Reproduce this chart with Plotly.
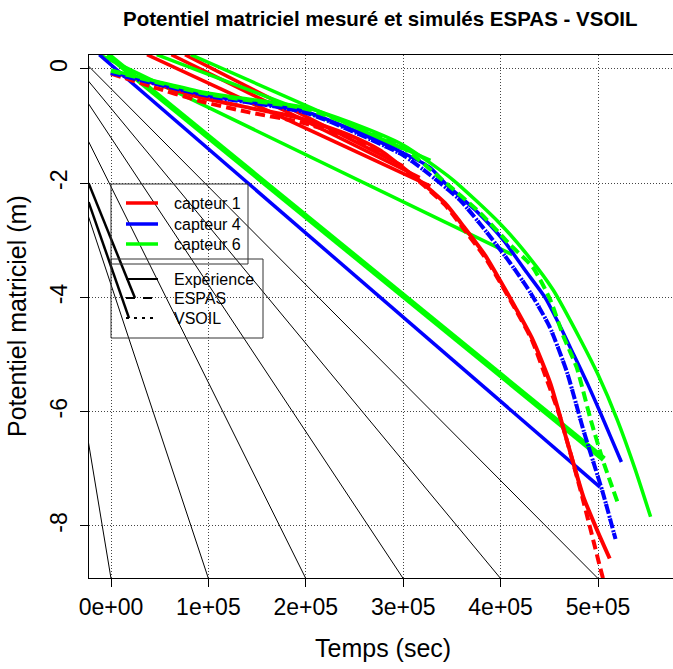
import plotly.graph_objects as go

SCALE = 1e5  # time values below are in units of 1e5 s

# ---- capteur 1 (red) ----
red_exp_t = [0, 0.4, 0.91, 1.42, 1.94, 2.45, 2.76, 3.0, 3.22, 3.43, 3.63, 3.84, 3.99, 4.15, 4.33, 4.51, 4.68, 4.85, 4.99, 5.12]
red_exp_h = [-0.05, -0.23, -0.49, -0.68, -0.86, -1.16, -1.42, -1.73, -2.03, -2.35, -2.78, -3.26, -3.69, -4.17, -4.74, -5.50, -6.50, -7.49, -8.07, -8.57]
red_espas_t = [0, 0.4, 0.91, 1.42, 1.94, 2.45, 2.76, 3.0, 3.22, 3.43, 3.63, 3.84, 3.99, 4.15, 4.32, 4.47, 4.61, 4.82, 5.05, 5.10]
red_espas_h = [-0.08, -0.30, -0.56, -0.76, -0.93, -1.20, -1.45, -1.74, -2.05, -2.38, -2.82, -3.30, -3.72, -4.20, -4.74, -5.42, -6.09, -7.37, -8.91, -9.2]

# ---- capteur 4 (blue) ----
blue_exp_t = [0, 0.99, 2.01, 3.0, 3.28, 3.43, 3.74, 4.03, 4.25, 4.46, 4.61, 4.75, 4.89, 5.02, 5.13, 5.24]
blue_exp_h = [-0.05, -0.46, -0.75, -1.47, -1.73, -2.00, -2.47, -3.00, -3.52, -4.01, -4.50, -5.00, -5.50, -6.00, -6.44, -6.88]
blue_espas_t = [0, 0.99, 2.01, 3.0, 3.28, 3.58, 3.84, 4.10, 4.30, 4.50, 4.68, 4.85, 5.05, 5.18]
blue_espas_h = [-0.07, -0.47, -0.77, -1.51, -1.86, -2.29, -2.82, -3.40, -3.90, -4.50, -5.30, -6.32, -7.42, -8.23]
blue_vsoil_t = [0, 0.99, 2.01, 3.0, 3.28, 3.58, 3.84, 4.10, 4.30, 4.50, 4.68, 4.85, 5.05, 5.18]
blue_vsoil_h = [-0.07, -0.47, -0.77, -1.51, -1.86, -2.29, -2.82, -3.40, -3.90, -4.50, -5.30, -6.32, -7.42, -8.23]

# ---- capteur 6 (green) ----
green_exp_t = [0, 0.99, 2.01, 2.45, 3.0, 3.51, 3.99, 4.30, 4.54, 4.82, 5.00, 5.20, 5.38, 5.54]
green_exp_h = [-0.02, -0.42, -0.68, -0.93, -1.33, -1.94, -2.70, -3.31, -3.87, -4.74, -5.35, -6.15, -7.00, -7.84]
green_espas_t = [0, 0.99, 2.01, 2.45, 3.0, 3.38, 3.79, 4.10, 4.33, 4.51, 4.64, 4.78, 4.92, 5.05, 5.20]
green_espas_h = [-0.03, -0.44, -0.70, -0.97, -1.38, -1.91, -2.52, -3.08, -3.47, -4.04, -4.66, -5.22, -6.11, -6.85, -7.58]

# ---- straight "return" segments seen in the figure ----
red_jump_t0 = [0.37, 0.62, 0.76]
red_jump_h0 = [0.25, 0.25, 0.25]
red_jump_t1 = [3.28, 3.17, 3.0]
red_jump_h1 = [-2.05, -1.90, -1.70]
green_jump_t0 = [0.47, 0.82, -0.12]
green_jump_h0 = [0.25, 0.25, 0.25]
green_jump_t1 = [3.0, 3.28, 4.12]
green_jump_h1 = [-1.40, -1.60, -3.25]
green_thick_t = [-0.035, 5.06]
green_thick_h = [0.25, -6.83]
blue_jump_t = [-0.12, 5.02]
blue_jump_h = [0.25, -7.32]

# ---- black fan lines ----
fan_origin_t = -1.0
fan_origin_h = 1.37
fan_end_t = [0, 1, 2, 3, 4, 5]
fan_end_h = -8.92
legend_join_t0 = [-0.23, -0.23]
legend_join_h0 = [-2.0, -2.33]
legend_join_t1 = [0.246, 0.185]
legend_join_h1 = [-4.01, -4.36]

xtick_vals = [0, 1, 2, 3, 4, 5]
xtick_text = ["0e+00", "1e+05", "2e+05", "3e+05", "4e+05", "5e+05"]
ytick_vals = [0, -2, -4, -6, -8]
ytick_text = ["0", "-2", "-4", "-6", "-8"]

RED, BLUE, GREEN = "#FF0000", "#0000FF", "#00FF00"
FONT = "Liberation Sans, Arial, sans-serif"

fig = go.Figure()


def seg(x, y, color, width, dash="solid", smooth=False):
    line = dict(color=color, width=width, dash=dash)
    if smooth:
        line.update(shape="spline", smoothing=0.6)
    fig.add_trace(go.Scatter(x=[v * SCALE for v in x], y=y, mode="lines", line=line,
                             showlegend=False, hoverinfo="skip"))


for te in fan_end_t:
    seg([fan_origin_t, te], [fan_origin_h, fan_end_h], "black", 1)
for a, b, c, d in zip(legend_join_t0, legend_join_h0, legend_join_t1, legend_join_h1):
    seg([a, c], [b, d], "black", 2.5)

for a, b, c, d in zip(red_jump_t0, red_jump_h0, red_jump_t1, red_jump_h1):
    seg([a, c], [b, d], RED, 3.5)
for a, b, c, d in zip(green_jump_t0, green_jump_h0, green_jump_t1, green_jump_h1):
    seg([a, c], [b, d], GREEN, 3.5)
seg(green_thick_t, green_thick_h, GREEN, 6)
seg(blue_jump_t, blue_jump_h, BLUE, 3.5)

seg(red_espas_t, red_espas_h, RED, 4, "10px,5px", True)
seg(red_exp_t, red_exp_h, RED, 4, "solid", True)
seg(blue_espas_t, blue_espas_h, BLUE, 4, "10px,5px", True)
seg(blue_vsoil_t, blue_vsoil_h, BLUE, 4, "1px,11px,2px,1px", True)
seg(blue_exp_t, blue_exp_h, BLUE, 3.5, "solid", True)
seg(green_espas_t, green_espas_h, GREEN, 4, "10px,5px", True)
seg(green_exp_t, green_exp_h, GREEN, 3.5, "solid", True)

W, H = 673, 669
L, R, T, B = 89, 0, 55, 91
PW, PH = W - L - R, H - T - B


def px(xp):
    return (xp - L) / PW


def py(yp):
    return (H - B - yp) / PH


shapes = []
shapes.append(dict(type="rect", xref="paper", yref="paper", x0=px(111), x1=px(248), y0=py(264), y1=py(184),
                   line=dict(color="#333", width=1)))
shapes.append(dict(type="rect", xref="paper", yref="paper", x0=px(111), x1=px(263), y0=py(338), y1=py(259),
                   line=dict(color="#333", width=1)))
leg1 = [("capteur 1", RED, 203), ("capteur 4", BLUE, 224), ("capteur 6", GREEN, 244)]
leg2 = [("Expérience", "solid", 279), ("ESPAS", "9px,8px", 298), ("VSOIL", "3px,5px", 318)]
annotations = []
for txt, col, yy in leg1:
    shapes.append(dict(type="line", xref="paper", yref="paper", x0=px(126), x1=px(158), y0=py(yy), y1=py(yy),
                       line=dict(color=col, width=3.5)))
    annotations.append(dict(text=txt, xref="paper", yref="paper", x=px(172), y=py(yy), xanchor="left",
                            yanchor="middle", showarrow=False, font=dict(family=FONT, size=16, color="black")))
for txt, dsh, yy in leg2:
    shapes.append(dict(type="line", xref="paper", yref="paper", x0=px(126), x1=px(158), y0=py(yy), y1=py(yy),
                       line=dict(color="black", width=2, dash=dsh)))
    annotations.append(dict(text=txt, xref="paper", yref="paper", x=px(172), y=py(yy), xanchor="left",
                            yanchor="middle", showarrow=False, font=dict(family=FONT, size=16, color="black")))

annotations.append(dict(text="<b>Potentiel matriciel mesuré et simulés ESPAS - VSOIL</b>", xref="paper", yref="paper",
                        x=px(380), y=py(19), xanchor="center", yanchor="middle", showarrow=False,
                        font=dict(family=FONT, size=20.5, color="black")))
annotations.append(dict(text="Temps (sec)", xref="paper", yref="paper", x=px(383), y=py(648), xanchor="center",
                        yanchor="middle", showarrow=False, font=dict(family=FONT, size=25, color="black")))
annotations.append(dict(text="Potentiel matriciel (m)", xref="paper", yref="paper", x=px(17), y=py(316),
                        xanchor="center", yanchor="middle", textangle=-90, showarrow=False,
                        font=dict(family=FONT, size=25, color="black")))

x_lo = (L - 111) / 97.4
x_hi = (W - 111) / 97.4
fig.update_layout(
    width=W, height=H, margin=dict(l=L, r=R, t=T, b=B, autoexpand=False),
    paper_bgcolor="white", plot_bgcolor="white",
    font=dict(family=FONT, color="black"),
    shapes=shapes, annotations=annotations,
    xaxis=dict(range=[x_lo * SCALE, x_hi * SCALE], tickvals=[v * SCALE for v in xtick_vals], ticktext=xtick_text,
               ticks="outside", ticklen=8, tickcolor="black", tickwidth=1,
               showline=True, linecolor="black", linewidth=1, mirror=True,
               showgrid=True, gridcolor="#444", griddash="1px,2px", gridwidth=1, zeroline=False,
               tickfont=dict(family=FONT, size=23, color="black")),
    yaxis=dict(range=[-8.911, 0.245], tickvals=ytick_vals, ticktext=ytick_text, tickangle=-90,
               ticks="outside", ticklen=8, tickcolor="black", tickwidth=1, ticklabelstandoff=4,
               showline=True, linecolor="black", linewidth=1, mirror=False,
               showgrid=True, gridcolor="#444", griddash="1px,2px", gridwidth=1, zeroline=False,
               tickfont=dict(family=FONT, size=23, color="black")),
)

fig.write_html("out.html")
